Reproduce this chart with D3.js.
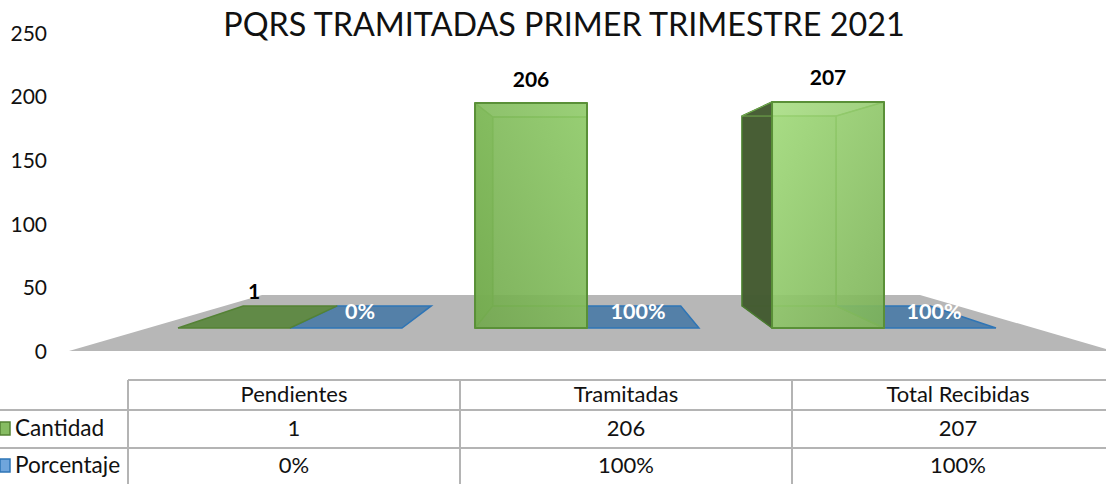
<!DOCTYPE html>
<html>
<head>
<meta charset="utf-8">
<script src="https://cdnjs.cloudflare.com/ajax/libs/d3/7.8.5/d3.min.js"></script>
<style>
html, body { margin: 0; padding: 0; background: #fff; overflow: hidden; }
svg { display: block; }
text { font-family: Lato, "Open Sans", sans-serif; fill: #111; }
</style>
</head>
<body>
<div id="chart"></div>
<script>
var categories = ["Pendientes", "Tramitadas", "Total Recibidas"];
var seriesNames = ["Cantidad", "Porcentaje"];
var cantidad = [1, 206, 207];
var porcentaje = [0, 1, 1];
var yTicks = [0, 50, 100, 150, 200, 250];
var titleText = "PQRS TRAMITADAS PRIMER TRIMESTRE 2021";

var width = 1106, height = 484;

var formatPercent = d3.format(".0%");

var svg = d3.select("#chart").append("svg")
    .attr("width", width)
    .attr("height", height);

var defs = svg.append("defs");

function gradient(id, x1, y1, x2, y2, from, to) {
    var g = defs.append("linearGradient").attr("id", id)
        .attr("x1", x1).attr("y1", y1).attr("x2", x2).attr("y2", y2);
    g.append("stop").attr("offset", "0%").attr("stop-color", from);
    g.append("stop").attr("offset", "100%").attr("stop-color", to);
}
gradient("front2", 1, 0, 0, 1, "#8fcb68", "#71a84c");
gradient("front3", 0, 0, 1, 1, "#a3dc7c", "#7cb257");

// axis labels use the flat scale, the bars the perspective one
var yAxisScale = d3.scaleLinear().domain([0, 250]).range([351.5, 33.5]);
var yFront = d3.scaleLinear().domain([0, 250]).range([328, 55]);

var x0 = d3.scaleBand().domain(categories).range([141.5, 1032.5]).paddingInner(0.246).paddingOuter(0.123);
var x1 = d3.scaleBand().domain(seriesNames).range([0, x0.bandwidth()]);

// vanishing point and depth ratio of the 3d box
var vx = 585, vy = 190, depth = 0.84;
function back(p) {
    return [vx + (p[0] - vx) * depth, vy + (p[1] - vy) * depth];
}
var polyLine = d3.line();
function poly(sel, pts) {
    return sel.append("path").attr("d", polyLine(pts) + "Z");
}

// floor
svg.append("path")
    .attr("d", polyLine([[69, 351], [262, 295], [920, 295], [1106, 349], [1106, 351]]) + "Z")
    .attr("fill", "#b7b7b7");

// y axis, labels only
var yAxis = d3.axisLeft(yAxisScale).tickValues(yTicks).tickSize(0).tickPadding(0);
var axisG = svg.append("g").attr("transform", "translate(47,0)").call(yAxis);
axisG.select(".domain").remove();
axisG.selectAll("text").style("font-size", "21px").style("font-family", "Lato, sans-serif").attr("fill", "#111");

function drawFlat(g, left, right, fill, stroke) {
    var a = [left, yFront(0)], b = [right, yFront(0)];
    poly(g, [a, b, back(b), back(a)]).attr("fill", fill).attr("stroke", stroke).attr("stroke-width", 1.5);
}

function drawBox(g, left, right, value, i) {
    var y0 = yFront(0), y1 = yFront(value);
    var fbl = [left, y0], fbr = [right, y0], ftl = [left, y1], ftr = [right, y1];
    var bbl = back(fbl), bbr = back(fbr), btl = back(ftl), btr = back(ftr);
    var line = "#74ac50", edge = "#5a9038";
    var outside = left > vx;
    var faces = g.append("g").attr("stroke-linejoin", "round");
    // floor of the box first, only the part not under a dark wall matters
    poly(faces, [fbl, fbr, bbr, bbl])
        .attr("fill", "#5f9a3c").attr("fill-opacity", 0.3)
        .attr("stroke", line).attr("stroke-width", 1);
    poly(faces, [btl, btr, bbr, bbl])
        .attr("fill", "#86c063").attr("fill-opacity", 0.45)
        .attr("stroke", line).attr("stroke-width", 1.5);
    // left wall goes dark when we see it from outside
    poly(faces, [ftl, btl, bbl, fbl])
        .attr("fill", outside ? "#435a31" : "#84bc60")
        .attr("fill-opacity", outside ? 0.97 : 0.85)
        .attr("stroke", outside ? "#4a7a30" : line).attr("stroke-width", 1.5);
    poly(faces, [ftr, btr, bbr, fbr])
        .attr("fill", "#86c063").attr("fill-opacity", 0.4)
        .attr("stroke", line).attr("stroke-width", 1.5);
    // top lid
    poly(faces, [ftl, ftr, btr, btl])
        .attr("fill", outside ? "#4d6a38" : "#86c063").attr("fill-opacity", outside ? 0 : 0.3)
        .attr("stroke", line).attr("stroke-width", 1);
    // front panel
    poly(faces, [ftl, ftr, fbr, fbl])
        .attr("fill", "url(#front" + (i + 1) + ")").attr("fill-opacity", 0.85)
        .attr("stroke", edge).attr("stroke-width", 2);
}

var labelNudge = {
    Cantidad: [[20, -35], [0, -23], [0, -24]],
    Porcentaje: [[14, -17], [-5, -17], [-6, -17]]
};

// blue series sits underneath the green boxes
var bars = svg.append("g");
categories.forEach(function(c, i) {
    var left = x0(c) + x1("Porcentaje");
    drawFlat(bars, left, left + x1.bandwidth(), "#5480a8", "#2e75b6");
});
categories.forEach(function(c, i) {
    var left = x0(c) + x1("Cantidad"), right = left + x1.bandwidth();
    if (cantidad[i] < 10) drawFlat(bars, left, right, "#618a47", "#548235");
    else drawBox(bars, left, right, cantidad[i], i);
});

// data labels
svg.append("g").selectAll("text")
    .data(cantidad)
    .enter().append("text")
    .attr("x", function(d, i) { return x0(categories[i]) + x1("Cantidad") + x1.bandwidth() / 2 + labelNudge.Cantidad[i][0]; })
    .attr("y", function(d, i) { return yFront(d) + labelNudge.Cantidad[i][1]; })
    .attr("dy", "0.35em")
    .attr("text-anchor", "middle")
    .style("font-size", "21px").style("font-weight", "700").style("fill", "#000")
    .text(function(d) { return d; });

svg.append("g").selectAll("text")
    .data(porcentaje)
    .enter().append("text")
    .attr("x", function(d, i) { return x0(categories[i]) + x1("Porcentaje") + x1.bandwidth() / 2 + labelNudge.Porcentaje[i][0]; })
    .attr("y", function(d, i) { return yFront(0) + labelNudge.Porcentaje[i][1]; })
    .attr("dy", "0.35em")
    .attr("text-anchor", "middle")
    .style("font-size", "21.5px").style("font-weight", "700").style("fill", "#fff")
    .text(function(d) { return formatPercent(d); });

// title
svg.append("text")
    .attr("x", 564).attr("y", 36)
    .attr("text-anchor", "middle")
    .style("font-size", "32.3px")
    .text(titleText);

// data table under the chart
var colX = d3.scalePoint().domain(d3.range(4)).range([128, 1124]);
var rowY = [380, 410, 448, 484];
var table = svg.append("g").attr("stroke", "#b4b4b4").attr("stroke-width", 2);
d3.range(4).forEach(function(i) {
    table.append("line").attr("x1", colX(i)).attr("x2", colX(i)).attr("y1", rowY[0]).attr("y2", rowY[3]);
});
table.append("line").attr("x1", colX(0)).attr("x2", width).attr("y1", rowY[0]).attr("y2", rowY[0]);
table.append("line").attr("x1", 0).attr("x2", width).attr("y1", rowY[1]).attr("y2", rowY[1]);
table.append("line").attr("x1", 0).attr("x2", width).attr("y1", rowY[2]).attr("y2", rowY[2]);

function cell(col, row, txt) {
    svg.append("text")
        .attr("x", (colX(col) + colX(col + 1)) / 2)
        .attr("y", (rowY[row] + rowY[row + 1]) / 2 - 1)
        .attr("dy", "0.35em")
        .attr("text-anchor", "middle")
        .style("font-size", "22px")
        .text(txt);
}
categories.forEach(function(c, i) {
    cell(i, 0, c);
    cell(i, 1, cantidad[i]);
    cell(i, 2, formatPercent(porcentaje[i]));
});

// legend keys in the first column
var keyFill = ["#86bc62", "#6fa5dc"], keyStroke = ["#548235", "#2e75b6"];
seriesNames.forEach(function(s, i) {
    var cy = (rowY[i + 1] + rowY[i + 2]) / 2;
    svg.append("rect")
        .attr("x", 0).attr("y", cy - 7).attr("width", 10).attr("height", 13)
        .attr("fill", keyFill[i]).attr("stroke", keyStroke[i]).attr("stroke-width", 1.5);
    svg.append("text")
        .attr("x", 15).attr("y", cy - 1).attr("dy", "0.35em")
        .style("font-size", "22.6px")
        .text(s);
});
</script>
</body>
</html>
